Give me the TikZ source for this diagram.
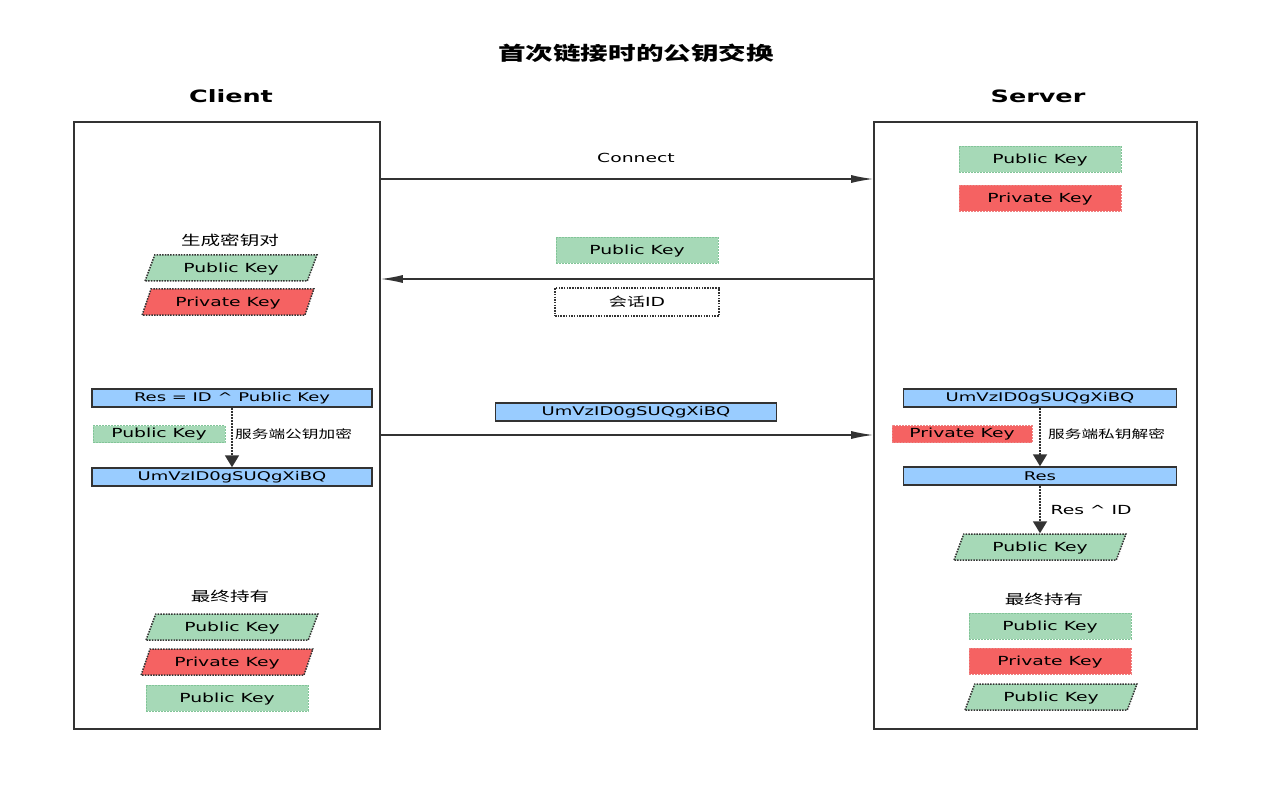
\documentclass[tikz,border=0pt]{standalone}
\usepackage{fontspec}
\setmainfont[FakeStretch=1.5]{DejaVu Sans}
\newfontfamily\cjk[FakeStretch=1.45]{Noto Sans CJK SC}
\usetikzlibrary{arrows.meta,shapes.geometric}

\definecolor{linegray}{RGB}{51,51,51}
\definecolor{keygreen}{RGB}{166,217,183}
\definecolor{keygreenline}{RGB}{130,196,152}
\definecolor{keyred}{RGB}{245,98,98}
\definecolor{keyredline}{RGB}{236,130,130}
\definecolor{cipherblue}{RGB}{153,204,255}

\tikzset{
  lane/.style={draw=linegray, line width=1.6pt},
  msg/.style={draw=linegray, line width=1.3pt, -{Latex[length=22pt,width=8pt]}},
  dotarrow/.style={draw=linegray, line width=1.8pt, dash pattern=on 1.8pt off 1.2pt,
    -{Triangle[length=12pt,width=14pt,sep=0pt]}},
  keytext/.style={font=\fontsize{12.5}{14}\selectfont, text=black},
  note/.style={keytext},
  cjklabel/.style={font=\cjk\fontsize{13.5}{15}\selectfont},
  cjknote/.style={font=\cjk\fontsize{11.5}{13}\selectfont, inner sep=0pt},
  keyrect/.style={keytext, minimum width=162pt, minimum height=26pt, inner sep=0pt,
    text depth=1pt, dash pattern=on 2pt off 1pt, line width=0.8pt},
  pubrect/.style={keyrect, fill=keygreen, draw=keygreenline},
  privrect/.style={keyrect, fill=keyred, draw=keyredline},
  keypara/.style={keytext, trapezium, trapezium left angle=60, trapezium right angle=120,
    trapezium stretches=true, minimum width=172pt, minimum height=26pt, inner sep=0pt,
    text depth=1pt, draw=linegray, dash pattern=on 1.5pt off 1.2pt, line width=1.5pt},
  pubpara/.style={keypara, fill=keygreen},
  privpara/.style={keypara, fill=keyred},
  bluebox/.style={font=\fontsize{12}{14}\selectfont, fill=cipherblue, draw=linegray,
    line width=1.5pt, minimum width=280pt, minimum height=18pt, inner sep=0pt},
  smallkey/.style={keytext, minimum height=17pt, inner sep=0pt,
    dash pattern=on 2pt off 1pt, line width=0.8pt}
}

\begin{document}
\begin{tikzpicture}[x=1pt,y=-1pt]
\useasboundingbox[fill=white] (0,0) rectangle (1282,786);

\node[font=\cjk\bfseries\fontsize{19}{22}\selectfont] (title) at (636,53) {首次链接时的公钥交换};
\node[font=\bfseries\fontsize{17}{20}\selectfont] (clienttitle) at (231,96) {Client};
\node[font=\bfseries\fontsize{17}{20}\selectfont] (servertitle) at (1038,96) {Server};

% the two sides
\node[lane, minimum width=306pt, minimum height=607pt] (client) at (227,425.5) {};
\node[lane, minimum width=323pt, minimum height=607pt] (server) at (1035.5,425.5) {};

% connect
\coordinate (connect) at (0,179);
\draw[msg] (client.east |- connect) -- (server.west |- connect);
\node[note] (connectlabel) at (636,158) {Connect};

% server answers with its key and a session id
\coordinate (reply) at (0,279);
\draw[msg] (server.west |- reply) -- (client.east |- reply);
\node[pubrect] (pubmid) at (637,250) {Public Key};
\node[keytext, minimum width=164pt, minimum height=28pt, inner sep=0pt, fill=white,
  draw=linegray, dash pattern=on 1.5pt off 1.2pt, line width=1.5pt] (session) at (637,302) {{\cjk 会话}ID};

% server keys
\node[pubrect] (spub) at (1040,159) {Public Key};
\node[privrect] (spriv) at (1040,198) {Private Key};

% client keys
\node[cjklabel] (genlabel) at (230,240) {生成密钥对};
\node[pubpara] (cpub1) at (231,268) {Public Key};
\node[privpara] (cpriv1) at (228,302) {Private Key};

% client encrypts
\node[bluebox] (cres) at (232,398) {Res = ID \textasciicircum{} Public Key};
\node[bluebox] (cenc) at (232,477) {UmVzID0gSUQgXiBQ};
\draw[dotarrow] (cres) -- (cenc);
\node[smallkey, fill=keygreen, draw=keygreenline, minimum width=132pt] (cpubsmall) at (159,434) {Public Key};
\node[cjknote, anchor=west] (enclabel) at (235,434) {服务端公钥加密};

\coordinate (send) at (0,435);
\draw[msg] (client.east |- send) -- (server.west |- send);
\node[bluebox, minimum width=281pt] (cipher) at (636,412) {UmVzID0gSUQgXiBQ};

% server decrypts
\node[bluebox, minimum width=273pt] (sdec) at (1040,398) {UmVzID0gSUQgXiBQ};
\node[bluebox, minimum width=273pt] (sres) at (1040,476) {Res};
\draw[dotarrow] (sdec) -- (sres);
\node[smallkey, fill=keyred, draw=keyredline, minimum width=140pt] (sprivsmall) at (962,434) {Private Key};
\node[cjknote, anchor=west] (declabel) at (1048,434) {服务端私钥解密};
\node[pubpara] (spub2) at (1040,547) {Public Key};
\draw[dotarrow] (sres) -- (spub2);
\node[note, anchor=west] (xorlabel) at (1047,510) {Res \textasciicircum{} ID};

% what each side ends up with
\node[cjklabel] (cfinal) at (230,596) {最终持有};
\node[pubpara] (cpub2) at (232,627) {Public Key};
\node[privpara] (cpriv2) at (227,662) {Private Key};
\node[pubrect] (cpub3) at (227,698) {Public Key};

\node[cjklabel] (sfinal) at (1044,599) {最终持有};
\node[pubrect] (spub3) at (1050,626) {Public Key};
\node[privrect] (spriv3) at (1050,661) {Private Key};
\node[pubpara] (spub4) at (1051,697) {Public Key};
\end{tikzpicture}
\end{document}
